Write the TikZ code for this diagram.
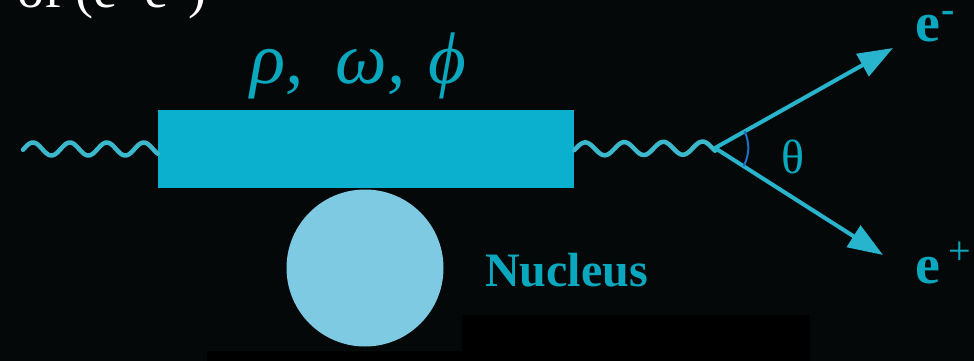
\documentclass[tikz,border=0pt]{standalone}
\usepackage{fontspec}
\setmainfont{Liberation Serif}
\usetikzlibrary{arrows.meta,calc}
\definecolor{bgc}{RGB}{5,8,8}
\definecolor{rectc}{RGB}{10,176,206}
\definecolor{linec}{RGB}{40,180,204}
\definecolor{wavec}{RGB}{60,184,204}
\definecolor{txtc}{RGB}{10,168,190}
\definecolor{nucc}{RGB}{126,202,226}
\definecolor{arcc}{RGB}{30,110,200}
\tikzset{
  photon/.style={draw=wavec, line width=4.5pt, line cap=round, line join=round},
  lepton/.style={draw=linec, line width=4pt, -{Triangle[length=35pt,width=25pt]}},
  lbl/.style={text=txtc, inner sep=0pt, outer sep=0pt},
}
\newcommand{\supsym}[3]{\kern#1\raisebox{#2}{\fontsize{40}{44}\selectfont #3}}
\begin{document}
\begin{tikzpicture}[x=1pt,y=-1pt]
\useasboundingbox (0,0) rectangle (974,361);
\clip (0,0) rectangle (974,361);
\fill[bgc] (0,0) rectangle (974,361);
\fill[black] (462,315) rectangle (810,361);
\fill[black] (207,351) rectangle (462,361);
% cut-off title text
\node[anchor=base east, text=white, inner sep=0pt, font=\fontsize{54}{60}\selectfont] (title) at (207,8) {of (e$^{+}$\,e$^{-}$)};
% meson box
\node[fill=rectc, minimum width=416pt, minimum height=78pt, inner sep=0pt] (meson) at (366,149) {};
\node[lbl, anchor=base west, font=\fontsize{73}{78}\selectfont\itshape] (mlabel) at (250,83)
  {\makebox[86pt][l]{ρ,}\makebox[93pt][l]{ω,}ϕ};
% nucleus
\node[circle, fill=nucc, minimum size=157pt, inner sep=0pt] (nucleus) at (365,268) {};
\node[lbl, anchor=base west, font=\fontsize{48}{56}\selectfont\bfseries] (nuclbl) at (485,286) {Nucleus};
% coordinates
\coordinate (inL) at (23,149);
\coordinate (mL) at (meson.west |- inL);
\coordinate (mR) at (meson.east |- inL);
\coordinate (v) at (715,148);
\coordinate (em) at (893,48);
\coordinate (ep) at (883,255);
% photons
\draw[photon] ($(inL)+(0,{-6.5*sin(-7)})$)
  \foreach \i in {1,...,120} { -- ($(inL)!{\i/120}!(mL) + (0,{-6.5*sin(3.65*3*\i - 7)})$) };
\draw[photon] ($(mR)+(0,{-6.5*sin(-11)})$)
  \foreach \i in {1,...,120} { -- ($(mR)!{\i/120}!(v) + (0,{-6.5*sin(3.6*3*\i - 11)})$) };
% leptons
\draw[lepton] (v) -- (em);
\draw[lepton] (v) -- (ep);
% angle
\coordinate (a1) at ($(v)!34pt!(em)$);
\coordinate (a2) at ($(v)!34pt!(ep)$);
\draw[arcc, line width=2pt] (a1) to[bend left=24] (a2);
\node[lbl, anchor=base west, font=\fontsize{48}{56}\selectfont] (theta) at (781,173) {θ};
% electron labels
\node[lbl, anchor=base west, font=\fontsize{56}{62}\selectfont\bfseries] (eminus) at (915,42) {e\supsym{2pt}{19pt}{-}};
\node[lbl, anchor=base west, font=\fontsize{56}{62}\selectfont\bfseries] (eplus) at (915,283) {e\supsym{9pt}{19pt}{\mdseries +}};
\end{tikzpicture}
\end{document}
